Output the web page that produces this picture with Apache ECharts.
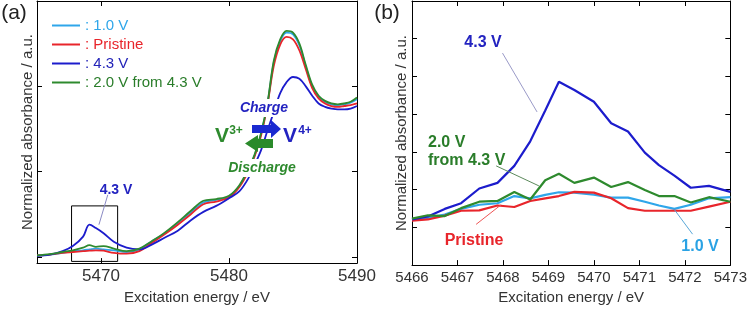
<!DOCTYPE html>
<html>
<head>
<meta charset="utf-8">
<script src="https://cdn.jsdelivr.net/npm/echarts@6/dist/echarts.min.js"></script>
<style>
html,body{margin:0;padding:0;background:#fff;}
#chart{width:750px;height:310px;}
</style>
</head>
<body>
<div id="chart"></div>
<script>
// ---------- Data ----------
const seriesNames = ['1.0 V', 'Pristine', '4.3 V', '2.0 V from 4.3 V'];

// Panel (a): full XANES pre-edge + edge
const aEnergy = [5465, 5466, 5467, 5467.8, 5468.6, 5469.1, 5469.6, 5470.2, 5471, 5472, 5473, 5474, 5475, 5476, 5477, 5478, 5479, 5480, 5480.8, 5481.5, 5482, 5482.5, 5483, 5483.5, 5484, 5484.5, 5485, 5485.5, 5486, 5486.5, 5487, 5487.5, 5488, 5488.5, 5489, 5489.5, 5490];
const aV10 = [0.02, 0.03, 0.05, 0.07, 0.08, 0.09, 0.10, 0.09, 0.08, 0.06, 0.09, 0.19, 0.28, 0.40, 0.52, 0.64, 0.67, 0.71, 0.83, 1.02, 1.19, 1.44, 1.79, 2.28, 2.53, 2.63, 2.61, 2.48, 2.23, 2.00, 1.88, 1.82, 1.79, 1.78, 1.79, 1.81, 1.85];
const aPristine = [0.02, 0.03, 0.05, 0.06, 0.07, 0.075, 0.08, 0.075, 0.05, 0.04, 0.07, 0.17, 0.27, 0.38, 0.50, 0.62, 0.65, 0.70, 0.82, 1.00, 1.18, 1.42, 1.78, 2.24, 2.49, 2.58, 2.55, 2.42, 2.20, 1.98, 1.86, 1.80, 1.77, 1.76, 1.77, 1.78, 1.80];
const aV43 = [0.015, 0.03, 0.07, 0.13, 0.24, 0.38, 0.34, 0.28, 0.18, 0.11, 0.09, 0.15, 0.23, 0.31, 0.43, 0.53, 0.60, 0.69, 0.77, 0.92, 1.08, 1.25, 1.48, 1.70, 1.92, 2.05, 2.11, 2.09, 2.00, 1.89, 1.80, 1.76, 1.74, 1.73, 1.73, 1.74, 1.77];
const aV20 = [0.02, 0.035, 0.06, 0.08, 0.11, 0.14, 0.12, 0.13, 0.10, 0.07, 0.10, 0.19, 0.29, 0.41, 0.54, 0.66, 0.68, 0.72, 0.84, 1.03, 1.20, 1.45, 1.80, 2.30, 2.55, 2.65, 2.63, 2.50, 2.25, 2.02, 1.89, 1.83, 1.80, 1.79, 1.80, 1.82, 1.87];
const aTicksX = [5470, 5480, 5490];
const aTicksY = [0, 1, 2];

// Panel (b): pre-edge zoom
const bEnergy = [5466.0, 5466.35, 5466.72, 5467.08, 5467.48, 5467.88, 5468.25, 5468.6, 5468.93, 5469.23, 5469.57, 5470.0, 5470.38, 5470.75, 5471.12, 5471.43, 5471.77, 5472.13, 5472.53, 5473.0];
const bV10 = [1.21, 1.25, 1.34, 1.49, 1.60, 1.64, 1.83, 1.77, 1.86, 1.93, 1.92, 1.87, 1.79, 1.79, 1.68, 1.58, 1.49, 1.60, 1.77, 1.80];
const bPristine = [1.18, 1.21, 1.31, 1.44, 1.45, 1.58, 1.54, 1.70, 1.77, 1.83, 1.94, 1.92, 1.77, 1.51, 1.44, 1.44, 1.44, 1.44, 1.55, 1.68];
const bV43 = [1.21, 1.29, 1.49, 1.64, 2.03, 2.18, 2.63, 3.28, 4.10, 4.86, 4.64, 4.33, 3.76, 3.54, 2.98, 2.65, 2.37, 2.05, 2.10, 1.94];
const bV20 = [1.23, 1.32, 1.30, 1.51, 1.68, 1.70, 1.94, 1.74, 2.25, 2.42, 2.18, 2.32, 2.07, 2.20, 1.99, 1.83, 1.83, 1.66, 1.80, 1.68];

// ---------- Styles ----------
const FONT = '"Liberation Sans", Arial, sans-serif';
const C_LIGHT = '#2fa6ea';
const C_RED = '#e8252b';
const C_BLUE = '#1c1ccc';
const C_GREEN = '#2e8a2e';
const lineColors = [C_LIGHT, C_RED, C_BLUE, C_GREEN];
const legendTextColors = ['#2fa6ea', '#e8252b', '#2323b8', '#2a7d2a'];

function pairs(xs, ys) { return xs.map((x, i) => [x, ys[i]]); }
const plain = v => String(v);

function frameAxis(extra) {
  return Object.assign({
    type: 'value',
    axisLine: { show: true, onZero: false, lineStyle: { color: '#000', width: 1 } },
    axisTick: { show: true, inside: true, length: 5, lineStyle: { color: '#000', width: 1 } },
    axisLabel: { show: false },
    splitLine: { show: false }
  }, extra);
}

const axisNameStyle = { fontSize: 15, color: '#333', fontFamily: FONT };

const chart = echarts.init(document.getElementById('chart'), null, { renderer: 'canvas' });

const aSeriesData = [aV10, aPristine, aV43, aV20];
const bSeriesData = [bV10, bPristine, bV43, bV20];

const series = [];
aSeriesData.forEach((d, i) => {
  const s = {
    name: seriesNames[i], type: 'line', xAxisIndex: 0, yAxisIndex: 0,
    data: pairs(aEnergy, d), symbol: 'none', showSymbol: false, smooth: 0.35,
    lineStyle: { color: lineColors[i], width: 1.8 }, itemStyle: { color: lineColors[i] },
    z: 2 + i
  };
  if (i === 2) {
    s.markArea = {
      silent: true,
      itemStyle: { color: 'rgba(0,0,0,0)', borderColor: '#000', borderWidth: 1 },
      data: [[{ xAxis: 5467.7, yAxis: 0.6 }, { xAxis: 5471.3, yAxis: -0.05 }]]
    };
    s.markLine = {
      silent: true, symbol: ['none', 'none'], label: { show: false },
      lineStyle: { color: '#8a8ac4', width: 1, type: 'solid' },
      data: [[{ coord: [5470.53, 0.73] }, { coord: [5469.84, 0.38] }]]
    };
  }
  series.push(s);
});
const bLeaders = [
  { c: '#5aa8d8', p: [[5472.17, 0.82], [5471.77, 1.47]] },
  { c: '#ee5555', p: [[5467.41, 1.08], [5467.96, 1.60]] },
  { c: '#9a9ac8', p: [[5467.99, 5.62], [5468.75, 4.06]] },
  { c: '#5c8a5c', p: [[5467.85, 2.63], [5468.79, 2.10]] }
];
bSeriesData.forEach((d, i) => {
  series.push({
    name: seriesNames[i], type: 'line', xAxisIndex: 2, yAxisIndex: 2,
    data: pairs(bEnergy, d), symbol: 'none', showSymbol: false,
    lineStyle: { color: lineColors[i], width: 2.2 }, itemStyle: { color: lineColors[i] },
    z: 2 + i,
    markLine: {
      silent: true, symbol: ['none', 'none'], label: { show: false },
      lineStyle: { color: bLeaders[i].c, width: 1, type: 'solid' },
      data: [[{ coord: bLeaders[i].p[0] }, { coord: bLeaders[i].p[1] }]]
    }
  });
});

function txt(x, y, text, color, font, align, bg) {
  const st = { text: text, fill: color, font: font, align: align || 'center', verticalAlign: 'middle',
               textAlign: align || 'center', textVerticalAlign: 'middle' };
  if (bg) { st.backgroundColor = '#fff'; st.padding = bg; }
  return { type: 'text', x: x, y: y, z: 100, style: st };
}

const option = {
  animation: false,
  backgroundColor: '#fff',
  textStyle: { fontFamily: FONT },
  grid: [
    { left: 37, top: 1, width: 320, height: 268 },
    { left: 412, top: 1, width: 321, height: 270 }
  ],
  legend: {
    orient: 'vertical', left: 47, top: 12, itemWidth: 28, itemHeight: 2, itemGap: 2,
    icon: 'rect',
    selectedMode: false,
    formatter: ': {name}',
    textStyle: { fontSize: 15, fontFamily: FONT, lineHeight: 17 },
    data: seriesNames.map((n, i) => ({ name: n, textStyle: { color: legendTextColors[i], fontSize: 15, lineHeight: 17 } }))
  },
  xAxis: [
    frameAxis({ gridIndex: 0, position: 'bottom', min: 5465, max: 5490,
      axisTick: { show: true, inside: true, length: 5, customValues: aTicksX, lineStyle: { color: '#000' } },
      axisLabel: { show: true, customValues: aTicksX, formatter: plain, fontSize: 17, color: '#333', margin: 5, fontFamily: FONT },
      name: 'Excitation energy / eV', nameLocation: 'middle', nameGap: 18, nameTextStyle: axisNameStyle }),
    frameAxis({ gridIndex: 0, position: 'top', min: 5465, max: 5490,
      axisTick: { show: true, inside: true, length: 5, customValues: aTicksX, lineStyle: { color: '#000' } } }),
    frameAxis({ gridIndex: 1, position: 'bottom', min: 5466, max: 5473, interval: 1,
      axisLabel: { show: true, formatter: plain, fontSize: 15, color: '#333', margin: 5, fontFamily: FONT },
      name: 'Excitation energy / eV', nameLocation: 'middle', nameGap: 18, nameTextStyle: axisNameStyle }),
    frameAxis({ gridIndex: 1, position: 'top', min: 5466, max: 5473, interval: 1 })
  ],
  yAxis: [
    frameAxis({ gridIndex: 0, position: 'left', min: -0.07, max: 3.0,
      axisTick: { show: true, inside: true, length: 5, customValues: aTicksY, lineStyle: { color: '#000' } },
      name: 'Normalized absorbance / a.u.', nameLocation: 'middle', nameGap: 2, nameTextStyle: axisNameStyle }),
    frameAxis({ gridIndex: 0, position: 'right', min: -0.07, max: 3.0,
      axisTick: { show: true, inside: true, length: 5, customValues: aTicksY, lineStyle: { color: '#000' } } }),
    frameAxis({ gridIndex: 1, position: 'left', min: 0, max: 7, interval: 1,
      name: 'Normalized absorbance / a.u.', nameLocation: 'middle', nameGap: 3, nameTextStyle: axisNameStyle }),
    frameAxis({ gridIndex: 1, position: 'right', min: 0, max: 7, interval: 1 })
  ],
  series: series,
  graphic: [
    txt(14, 13, '(a)', '#222', '21px ' + FONT),
    txt(387, 13, '(b)', '#222', '21px ' + FONT),
    // panel (a) annotations
    txt(116, 190, '4.3 V', '#2323c0', 'bold 14px ' + FONT),
    txt(264, 108, 'Charge', '#2323c0', 'italic bold 14px ' + FONT, 'center', [2, 3]),
    txt(262, 168, 'Discharge', C_GREEN, 'italic bold 14px ' + FONT, 'center', [2, 3]),
    txt(222, 136, 'V', C_GREEN, 'bold 21px ' + FONT),
    txt(236, 131, '3+', C_GREEN, 'bold 12px ' + FONT),
    txt(290, 136, 'V', '#2323c0', 'bold 21px ' + FONT, 'center', [1, 1]),
    txt(305, 131, '4+', '#2323c0', 'bold 12px ' + FONT),
    { type: 'polygon', z: 101, shape: { points: [[252,125],[271,125],[271,120],[281,129],[271,138],[271,133],[252,133]] }, style: { fill: '#1a2ad0' } },
    { type: 'polygon', z: 101, shape: { points: [[273,139],[258,139],[258,135],[245,143.5],[258,152],[258,148],[273,148]] }, style: { fill: '#2a8a2a' } },
    // panel (b) annotations
    txt(483, 43, '4.3 V', '#2323c0', 'bold 16px ' + FONT),
    txt(428, 143, '2.0 V', '#2a7d2a', 'bold 16px ' + FONT, 'left'),
    txt(428, 161, 'from 4.3 V', '#2a7d2a', 'bold 16px ' + FONT, 'left'),
    txt(474, 241, 'Pristine', C_RED, 'bold 16px ' + FONT),
    txt(700, 247, '1.0 V', '#2aa2e4', 'bold 16px ' + FONT)
  ]
};
chart.setOption(option);
</script>
</body>
</html>
